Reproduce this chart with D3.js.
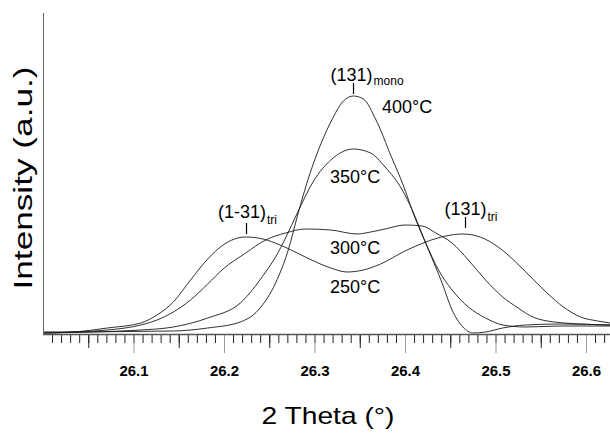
<!DOCTYPE html>
<html>
<head>
<meta charset="utf-8">
<script src="https://cdn.jsdelivr.net/npm/d3@7"></script>
<style>
  body { margin: 0; background: #fff; }
  svg { display: block; }
  text { font-family: Arial, "Liberation Sans", sans-serif; fill: #000; }
</style>
</head>
<body>
<svg id="chart" width="610" height="433"></svg>
<script>
// XRD scans of the (131) region at four temperatures
var theta250 = [26.000, 26.034, 26.071, 26.108, 26.126, 26.144, 26.163, 26.182, 26.199, 26.224, 26.243, 26.262, 26.281, 26.299, 26.318, 26.336, 26.354, 26.373, 26.400, 26.423, 26.445, 26.464, 26.483, 26.503, 26.520, 26.539, 26.557, 26.575, 26.594, 26.613, 26.627];
var int250   = [2, 3, 7, 12, 20, 33, 55, 76, 90, 98, 96, 90, 82, 74, 67, 63, 65, 71, 84, 93, 99, 101, 98, 88, 75, 58, 42, 28, 18, 14, 12];

var theta300 = [26.000, 26.071, 26.108, 26.126, 26.144, 26.163, 26.182, 26.199, 26.224, 26.246, 26.268, 26.290, 26.318, 26.347, 26.362, 26.378, 26.400, 26.419, 26.434, 26.452, 26.470, 26.489, 26.508, 26.525, 26.539, 26.557, 26.594, 26.627];
var int300   = [2, 5, 10, 15, 23, 35, 51, 66, 82, 95, 102, 106, 105, 101, 103, 106, 110, 109, 102, 92, 75, 55, 38, 27, 19, 14, 11, 10];

var theta350 = [26.000, 26.108, 26.144, 26.182, 26.218, 26.246, 26.257, 26.268, 26.281, 26.299, 26.318, 26.343, 26.362, 26.378, 26.397, 26.408, 26.423, 26.437, 26.452, 26.470, 26.489, 26.508, 26.533, 26.572, 26.627];
var int350   = [2, 5, 8, 17, 32, 63, 78, 97, 122, 154, 175, 186, 182, 168, 145, 125, 92, 65, 45, 28, 17, 10, 8, 9, 9];

var theta400 = [26.000, 26.144, 26.182, 26.218, 26.238, 26.257, 26.271, 26.282, 26.293, 26.301, 26.318, 26.332, 26.343, 26.354, 26.368, 26.385, 26.398, 26.409, 26.426, 26.441, 26.452, 26.464, 26.475, 26.489, 26.508, 26.533, 26.572, 26.627];
var int400   = [3, 4, 7, 13, 25, 52, 85, 122, 156, 177, 213, 234, 239, 236, 215, 178, 150, 122, 85, 52, 25, 8, 2, 3, 7, 10, 11, 10];

var majorTicks = [26.1, 26.2, 26.3, 26.4, 26.5, 26.6];
var tickLabels = ["26.1", "26.2", "26.3", "26.4", "26.5", "26.6"];
var midTicks = [26.05, 26.15, 26.25, 26.35, 26.45, 26.55];

var tempLabels = ["250°C", "300°C", "350°C", "400°C"];

// reflection markers: name, subscript, 2theta position
var peakNames = ["(1-31)", "(131)", "(131)"];
var peakSubs = ["tri", "mono", "tri"];
var peakTheta = [26.224, 26.342, 26.466];

var svg = d3.select("#chart");
// (window.top is read-only, so keep the frame in its own object)
var frame = { left: 43, right: 610, top: 15, bottom: 335 };

var x = d3.scaleLinear()
  .domain([26.0, 26.0 + (frame.right - frame.left) / 905])
  .range([frame.left, frame.right]);
var y = d3.scaleLinear()
  .domain([0, 320])
  .range([frame.bottom, frame.top]);

// curves
var series = [
  { t: theta250, v: int250 },
  { t: theta300, v: int300 },
  { t: theta350, v: int350 },
  { t: theta400, v: int400 }
];

var line = d3.line()
  .x(function(d) { return x(d[0]); })
  .y(function(d) { return y(d[1]); })
  .curve(d3.curveMonotoneX);

svg.append("g")
  .selectAll("path")
  .data(series)
  .join("path")
  .attr("d", function(s) { return line(d3.zip(s.t, s.v)); })
  .attr("fill", "none")
  .attr("stroke", "#1a1a1a")
  .attr("stroke-width", 0.9);

// x axis: minor / mid / major ticks
var minorTicks = d3.range(1, 63).map(function(i) { return 26 + i / 100; });

var gMinor = svg.append("g")
  .attr("transform", "translate(0," + frame.bottom + ")")
  .call(d3.axisBottom(x).tickValues(minorTicks).tickSize(8).tickFormat(""));
var gMid = svg.append("g")
  .attr("transform", "translate(0," + frame.bottom + ")")
  .call(d3.axisBottom(x).tickValues(midTicks).tickSize(13).tickFormat(""));
var gMajor = svg.append("g")
  .attr("transform", "translate(0," + frame.bottom + ")")
  .call(d3.axisBottom(x).tickValues(majorTicks).tickSize(18).tickPadding(12)
    .tickFormat(function(d, i) { return tickLabels[i]; }));

[gMinor, gMid, gMajor].forEach(function(g) {
  g.select(".domain").remove();
  g.selectAll(".tick line").attr("stroke", "#222").attr("stroke-width", 1);
});
gMajor.selectAll(".tick line").attr("stroke", "#999");
gMajor.selectAll(".tick text")
  .attr("font-size", 15)
  .attr("font-weight", "bold")
  .attr("fill", "#000")
  .attr("font-family", "Arial, 'Liberation Sans', sans-serif");

// axis lines
svg.append("line")
  .attr("x1", frame.left).attr("x2", frame.right)
  .attr("y1", frame.bottom - 0.5).attr("y2", frame.bottom - 0.5)
  .attr("stroke", "#555").attr("stroke-width", 1.5);
svg.append("line")
  .attr("x1", frame.left + 0.5).attr("x2", frame.left + 0.5)
  .attr("y1", frame.top - 2).attr("y2", frame.bottom)
  .attr("stroke", "#666").attr("stroke-width", 1);

// axis titles
svg.append("text")
  .attr("x", 328).attr("y", 424)
  .attr("text-anchor", "middle")
  .attr("font-size", 24)
  .attr("textLength", 133)
  .attr("lengthAdjust", "spacingAndGlyphs")
  .text("2 Theta (°)");

svg.append("text")
  .attr("transform", "translate(32,178) rotate(-90)")
  .attr("text-anchor", "middle")
  .attr("font-size", 25)
  .attr("textLength", 223)
  .attr("lengthAdjust", "spacingAndGlyphs")
  .text("Intensity (a.u.)");

// temperature labels
var tempPos = [[330, 293], [330, 254], [330, 183], [382, 113]];
svg.append("g")
  .selectAll("text")
  .data(tempLabels)
  .join("text")
  .attr("x", function(d, i) { return tempPos[i][0]; })
  .attr("y", function(d, i) { return tempPos[i][1]; })
  .attr("font-size", 18)
  .text(function(d) { return d; });

// reflection markers
var markTop = [223, 83, 217];
var textShift = [-28.5, -23, -21];
var textBase = [218, 81, 215];
var subDrop = [6, 4, 6];

peakTheta.forEach(function(t, i) {
  var px = Math.round(x(t)) + 0.5;
  svg.append("line")
    .attr("x1", px).attr("x2", px)
    .attr("y1", markTop[i]).attr("y2", markTop[i] + 11)
    .attr("stroke", "#000").attr("stroke-width", 1.2);
  var lab = svg.append("text")
    .attr("x", px + textShift[i])
    .attr("y", textBase[i])
    .attr("font-size", 18);
  lab.append("tspan").text(peakNames[i]);
  lab.append("tspan")
    .attr("dx", 1)
    .attr("dy", subDrop[i])
    .attr("font-size", 12)
    .text(peakSubs[i]);
});
</script>
</body>
</html>
